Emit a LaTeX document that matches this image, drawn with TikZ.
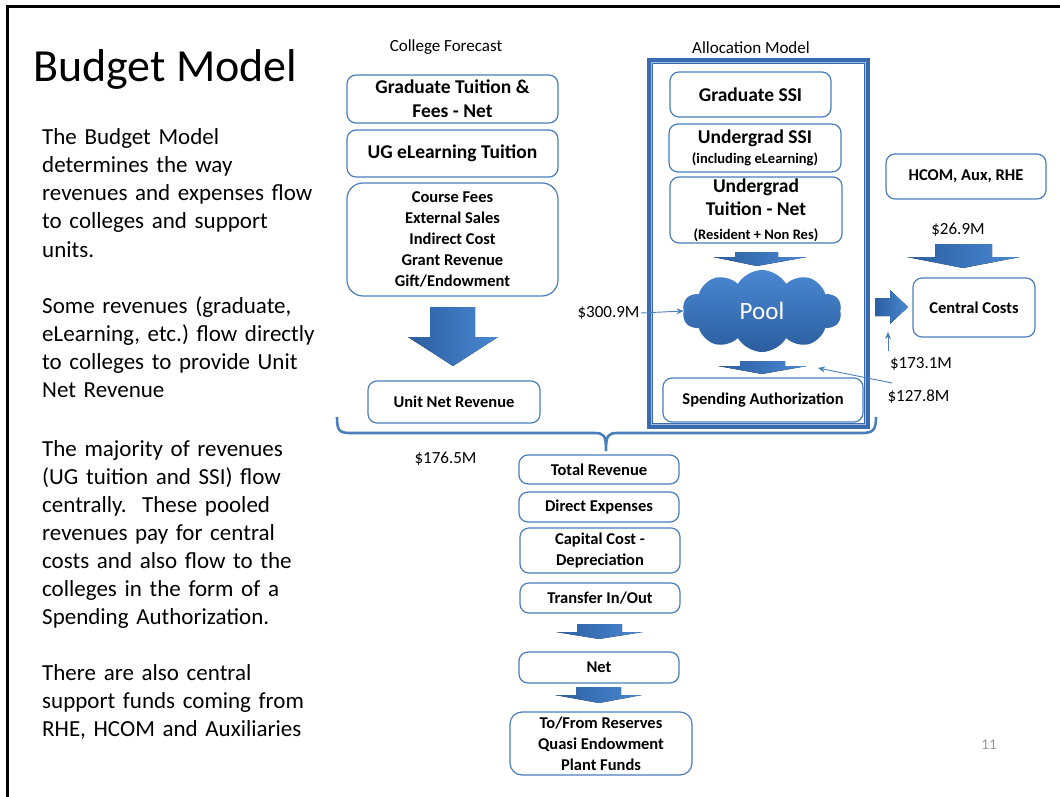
\documentclass[tikz,border=0pt]{standalone}
\usepackage{fontspec}
\setmainfont{Carlito}
\usetikzlibrary{shapes.symbols}
\usetikzlibrary{arrows.meta}
\definecolor{boxblue}{RGB}{74,126,187}
\definecolor{frameblue}{RGB}{58,106,176}
\definecolor{arrdark}{RGB}{44,94,160}
\definecolor{arrlight}{RGB}{74,136,210}
\tikzset{box/.style={draw=boxblue, line width=1.2pt, rounded corners=9pt, fill=white,
    align=center, inner sep=0pt, font=\bfseries\fontsize{16.5}{21}\selectfont}}
\tikzset{lbl/.style={font=\fontsize{17}{20}\selectfont, inner sep=1pt}}
\tikzset{bodytxt/.style={font=\fontsize{23}{28}\selectfont, text width=300pt,
    align=left, anchor=base west, inner sep=0pt}}
\tikzset{blockarrow/.style={draw=none, left color=arrdark, right color=arrlight}}
\tikzset{thinarrow/.style={-{Stealth[length=7pt,width=6pt]}, draw=boxblue, line width=0.9pt}}

\begin{document}
\begin{tikzpicture}[x=1pt,y=-1pt]
                \useasboundingbox (0,0) rectangle (1060,797);
                \draw[line width=3pt] (7,797) -- (7,7) -- (1060,7);

                % Title and text
                \node[anchor=base west, inner sep=0pt, font=\fontsize{46}{55}\selectfont] (title) at (33,82) {Budget Model};
                \node[bodytxt] (para1) at (42,145) {The Budget Model\\determines the way\\revenues and expenses flow\\to colleges and support\\units.};
                \node[bodytxt] (para2) at (42,313) {Some revenues (graduate,\\eLearning, etc.)\ flow directly\\to colleges to provide Unit\\Net Revenue};
                \node[bodytxt] (para3) at (42,456) {The majority of revenues\\(UG tuition and SSI) flow\\centrally.\ \ These pooled\\revenues pay for central\\costs and also flow to the\\colleges in the form of a\\Spending Authorization.};
                \node[bodytxt] (para4) at (42,680) {There are also central\\support funds coming from\\RHE, HCOM and Auxiliaries};

                % College forecast
                \node[lbl] (forecast) at (446,47) {College Forecast};
                \node[box, minimum width=211pt, minimum height=48pt, font=\bfseries\fontsize{19.5}{24}\selectfont] (gradfee) at (452.5,99) {Graduate Tuition \&\\Fees - Net};
                \node[box, minimum width=211pt, minimum height=47pt, font=\bfseries\fontsize{19.5}{24}\selectfont] (ugelearn) at (452.5,153.5) {UG eLearning Tuition};
                \node[box, minimum width=211pt, minimum height=113pt, rounded corners=16pt] (fees) at (452.5,239.5) {Course Fees\\External Sales\\Indirect Cost\\Grant Revenue\\Gift/Endowment};
                \node[box, minimum width=172pt, minimum height=42pt] (unitnet) at (454,402) {Unit Net Revenue};

                % Allocation model
                \node[lbl] (alloc) at (751,48) {Allocation Model};
                \draw[frameblue, line width=5.5pt] (650,61) rectangle (867,426);
                \draw[arrlight!55!white, line width=1.2pt] (651.5,62.5) rectangle (865.5,424.5);
                \node[box, minimum width=161pt, minimum height=45pt, font=\bfseries\fontsize{19.5}{24}\selectfont] (gradssi) at (750.5,94.5) {Graduate SSI};
                \node[box, minimum width=172pt, minimum height=48pt, font=\bfseries\fontsize{19.5}{20}\selectfont] (ugssi) at (755,148) {Undergrad SSI\\{\fontsize{14.5}{17}\selectfont (including eLearning)}};
                \node[box, minimum width=172pt, minimum height=66pt, font=\bfseries\fontsize{19.5}{23.5}\selectfont] (ugtuition) at (756,210) {Undergrad\\Tuition - Net\\{\fontsize{14.5}{17}\selectfont (Resident + Non Res)}};
                \node[cloud, cloud puffs=10, cloud puff arc=120, aspect=2, minimum width=159pt, minimum height=82pt,
                    inner sep=0pt, draw=none, top color=arrlight, bottom color=arrdark, text=white,
                    font=\fontsize{25}{30}\selectfont] (pool) at (762,311) {Pool};
                \node[box, minimum width=200pt, minimum height=44pt] (spend) at (763,400) {Spending Authorization};

                % Central side
                \node[box, minimum width=160pt, minimum height=45pt] (hcom) at (966,176.5) {HCOM, Aux, RHE};
                \node[box, minimum width=122pt, minimum height=59pt] (central) at (974,307.5) {Central Costs};

                % Bottom column
                \node[box, minimum width=160pt, minimum height=29pt] (totrev) at (599,469.5) {Total Revenue};
                \node[box, minimum width=160pt, minimum height=30pt] (direct) at (599,507) {Direct Expenses};
                \node[box, minimum width=160pt, minimum height=45pt] (capital) at (600,550.5) {Capital Cost -\\Depreciation};
                \node[box, minimum width=160pt, minimum height=30pt] (transfer) at (600,598) {Transfer In/Out};
                \node[box, minimum width=160pt, minimum height=31pt] (net) at (599,667.5) {Net};
                \node[box, minimum width=182pt, minimum height=63pt, rounded corners=12pt] (reserves) at (601,743.5) {To/From Reserves\\Quasi Endowment\\Plant Funds};

                % Amounts
                \node[lbl] (v300) at (608.5,313) {\$300.9M};
                \node[lbl] (v269) at (958,230) {\$26.9M};
                \node[lbl] (v173) at (921,364) {\$173.1M};
                \node[lbl] (v127) at (918.5,397) {\$127.8M};
                \node[lbl] (v176) at (445.5,459) {\$176.5M};
                \node[font=\fontsize{15}{18}\selectfont, text=gray!80, inner sep=0pt] (pagenum) at (989,745) {11};

                % Block arrows
                \fill[blockarrow] (430,307) -- (475,307) -- (475,337) -- (498,337) -- (453,366) -- (408,337) -- (430,337) -- cycle;
                \fill[blockarrow] (735,252) -- (778,252) -- (778,257) -- (807,257) -- (757,266) -- (713,257) -- (735,257) -- cycle;
                \fill[blockarrow] (740,361) -- (785,361) -- (785,366) -- (807,366) -- (762,374) -- (718,366) -- (740,366) -- cycle;
                \fill[blockarrow] (935,244) -- (992,244) -- (992,257) -- (1020,257) -- (963,268) -- (907,257) -- (935,257) -- cycle;
                \fill[blockarrow] (875,298) -- (890,298) -- (890,290) -- (908,307) -- (890,324) -- (890,316) -- (875,316) -- cycle;
                \fill[blockarrow] (577,624) -- (622,624) -- (622,632) -- (643,632) -- (599,639) -- (556,632) -- (577,632) -- cycle;
                \fill[blockarrow] (576,687) -- (621,687) -- (621,695) -- (642,695) -- (599,703) -- (555,695) -- (576,695) -- cycle;

                % Brace
                \draw[boxblue, line width=2.6pt] (337,417) .. controls (337,430) and (339,433) .. (350,433) -- (594,433)
                    .. controls (604,433) and (606,435) .. (606,451) .. controls (606,435) and (608,433) .. (618,433)
                    -- (862,433) .. controls (873,433) and (876,430) .. (876,417);

                % Thin arrows
                \coordinate (a173) at (888,351);
                \coordinate (b173) at (888,332);
                \coordinate (a127) at (892,383);
                \coordinate (b127) at (818,368);
                \draw[thinarrow] (v300.east) -- (pool.west);
                \draw[thinarrow] (a173) -- (b173);
                \draw[thinarrow] (a127) -- (b127);
\end{tikzpicture}
\end{document}
